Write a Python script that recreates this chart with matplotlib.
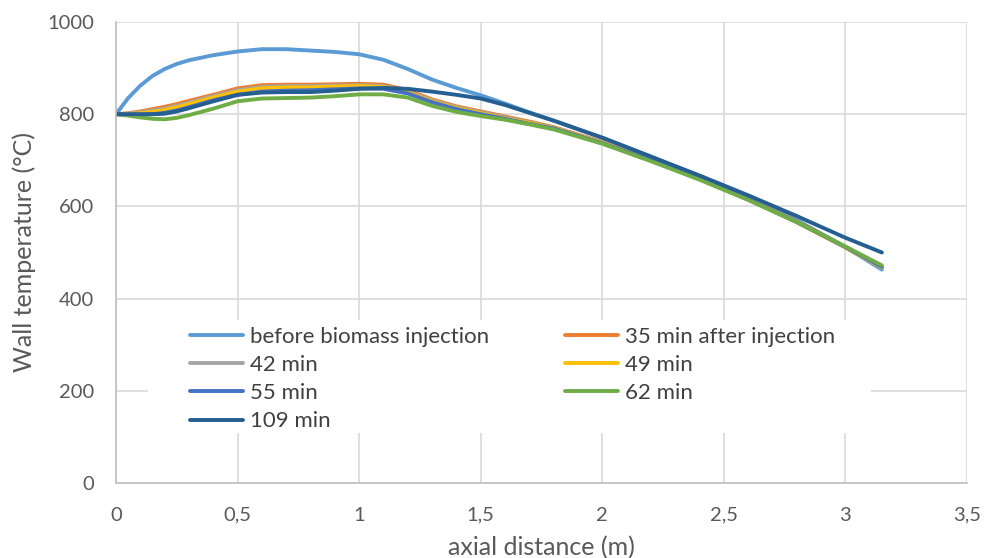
import numpy as np
import matplotlib.pyplot as plt
from matplotlib.patches import Rectangle
from matplotlib.ticker import FuncFormatter, MultipleLocator

plt.rcParams['font.family'] = ['Lato', 'DejaVu Sans']

# axial positions (m)
x = [0, 0.05, 0.1, 0.15, 0.2, 0.25, 0.3, 0.4, 0.5, 0.6, 0.7, 0.8, 0.9, 1.0,
     1.1, 1.2, 1.3, 1.4, 1.5, 1.6, 1.7, 1.8, 2.0, 2.2, 2.4, 2.6, 2.8, 3.0, 3.15]

# wall temperatures (°C)
before = [800, 835, 862, 883, 898, 909, 917, 928, 936, 941, 941, 938, 935, 930,
          918, 898, 875, 857, 841, 823, 804, 786, 749, 708, 665, 620, 570, 512, 463]
t35 = [800, 802, 806, 811, 816, 822, 829, 842, 856, 863, 864, 864, 865, 866,
       864, 852, 832, 817, 806, 795, 784, 772, 740, 702, 661, 617, 567, 512, 468]
t42 = [800, 801, 804, 808, 812, 818, 825, 839, 852, 859, 861, 861, 862, 863,
       861, 849, 830, 815, 804, 793, 782, 771, 739, 701, 660, 616, 566, 511, 467]
t49 = [800, 800, 802, 805, 809, 815, 822, 836, 849, 856, 858, 858, 860, 861,
       859, 847, 828, 813, 802, 791, 781, 770, 738, 700, 659, 615, 566, 511, 468]
t55 = [800, 799, 799, 800, 803, 808, 815, 830, 842, 849, 851, 852, 854, 856,
       855, 845, 826, 811, 800, 790, 779, 769, 737, 700, 659, 615, 566, 512, 469]
t62 = [800, 797, 793, 790, 789, 792, 798, 812, 828, 834, 835, 836, 839, 843,
       843, 836, 818, 805, 796, 788, 778, 767, 736, 698, 658, 614, 566, 513, 472]
t109 = [800, 800, 800, 800, 801, 806, 813, 828, 842, 847, 848, 848, 851, 855,
        857, 855, 849, 842, 834, 820, 803, 786, 749, 708, 667, 624, 579, 532, 500]

series = [before, t35, t42, t49, t55, t62, t109]
labels = ['before biomass injection', '35 min after injection', '42 min',
          '49 min', '55 min', '62 min', '109 min']
colors = ['#5B9BD5', '#ED7D31', '#A5A5A5', '#FFC000', '#4472C4', '#70AD47', '#255E91']

fig = plt.figure(figsize=(9.84, 5.58), dpi=100)
ax = fig.add_axes([0.1179, 0.1344, 0.8648, 0.8262])

handles = []
for y, lab, c in zip(series, labels, colors):
    h, = ax.plot(x, y, color=c, lw=2.8, label=lab,
                 solid_capstyle='round', solid_joinstyle='round')
    handles.append(h)

ax.set_xlim(0, 3.5)
ax.set_ylim(0, 1000)
ax.xaxis.set_major_locator(MultipleLocator(0.5))
ax.yaxis.set_major_locator(MultipleLocator(200))
ax.xaxis.set_major_formatter(FuncFormatter(lambda v, p: f'{v:g}'.replace('.', ',')))
ax.grid(True, color='#D9D9D9', lw=1.2)
ax.set_axisbelow(True)
for s in ['top', 'right']:
    ax.spines[s].set_visible(False)
for s in ['left', 'bottom']:
    ax.spines[s].set_color('#BFBFBF')
    ax.spines[s].set_linewidth(1.2)
ax.tick_params(length=0, labelsize=14.5, colors='#595959')
ax.tick_params(axis='y', pad=16)
ax.tick_params(axis='x', pad=17)

ax.set_xlabel('axial distance (m)', fontsize=18, color='#595959', labelpad=9)
ax.set_ylabel('Wall temperature (°C)', fontsize=18, color='#595959', labelpad=8)

# white legend area hiding the gridlines
ax.add_patch(Rectangle((0.0376, 0.1085), 0.85, 0.245, transform=ax.transAxes,
                       facecolor='white', edgecolor='none', zorder=1))

# legend filled row by row as in the original
order = [0, 2, 4, 6, 1, 3, 5]
leg = ax.legend([handles[i] for i in order], [labels[i] for i in order],
                ncol=2, loc='upper left', bbox_to_anchor=(0.087, 0.339),
                fontsize=16, frameon=False, borderpad=0, borderaxespad=0,
                handlelength=2.4, handletextpad=0.3, columnspacing=3.4,
                labelspacing=0.37)
for t in leg.get_texts():
    t.set_color('#404040')

fig.savefig('out.png', dpi=100)
